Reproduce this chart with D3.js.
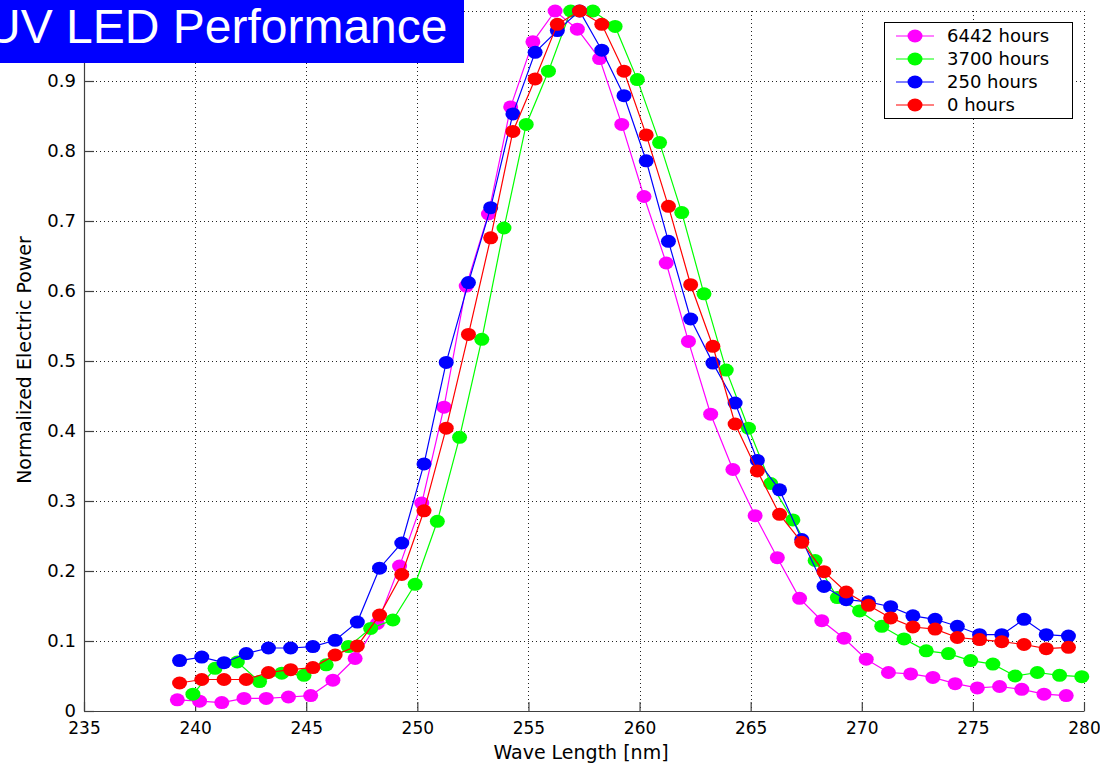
<!DOCTYPE html>
<html>
<head>
<meta charset="utf-8">
<script src="https://cdn.jsdelivr.net/npm/d3@7"></script>
<style>
  html, body { margin: 0; padding: 0; background: #fff; }
  svg { display: block; }
  text { font-family: "DejaVu Sans", Verdana, sans-serif; fill: #000; }
  text.banner { font-family: "Liberation Sans", Arial, sans-serif; fill: #fff; }
</style>
</head>
<body>
<svg id="chart" width="1100" height="766"></svg>
<script>
// Wavelength samples (nm) for each measurement run
const wl6442 = [239.2,240.2,241.2,242.2,243.2,244.2,245.2,246.2,247.2,248.2,249.2,250.2,251.2,252.2,253.2,254.2,255.2,256.2,257.2,258.2,259.2,260.2,261.2,262.2,263.2,264.2,265.2,266.2,267.2,268.2,269.2,270.2,271.2,272.2,273.2,274.2,275.2,276.2,277.2,278.2,279.2];
const wl3700 = [239.9,240.9,241.9,242.9,243.9,244.9,245.9,246.9,247.9,248.9,249.9,250.9,251.9,252.9,253.9,254.9,255.9,256.9,257.9,258.9,259.9,260.9,261.9,262.9,263.9,264.9,265.9,266.9,267.9,268.9,269.9,270.9,271.9,272.9,273.9,274.9,275.9,276.9,277.9,278.9,279.9];
const wl250  = [239.3,240.3,241.3,242.3,243.3,244.3,245.3,246.3,247.3,248.3,249.3,250.3,251.3,252.3,253.3,254.3,255.3,256.3,257.3,258.3,259.3,260.3,261.3,262.3,263.3,264.3,265.3,266.3,267.3,268.3,269.3,270.3,271.3,272.3,273.3,274.3,275.3,276.3,277.3,278.3,279.3];
const wl0    = [239.3,240.3,241.3,242.3,243.3,244.3,245.3,246.3,247.3,248.3,249.3,250.3,251.3,252.3,253.3,254.3,255.3,256.3,257.3,258.3,259.3,260.3,261.3,262.3,263.3,264.3,265.3,266.3,267.3,268.3,269.3,270.3,271.3,272.3,273.3,274.3,275.3,276.3,277.3,278.3,279.3];

// Normalized electric power per run
const p6442 = [0.016,0.014,0.012,0.018,0.018,0.020,0.022,0.044,0.075,0.125,0.207,0.297,0.434,0.607,0.710,0.863,0.956,1.000,0.974,0.932,0.838,0.735,0.640,0.528,0.424,0.345,0.279,0.219,0.161,0.129,0.104,0.074,0.055,0.053,0.048,0.039,0.033,0.035,0.031,0.024,0.022];
const p3700 = [0.024,0.061,0.070,0.042,0.054,0.051,0.066,0.092,0.118,0.130,0.181,0.271,0.391,0.531,0.690,0.838,0.914,1.000,1.000,0.978,0.902,0.812,0.712,0.596,0.487,0.404,0.325,0.273,0.215,0.162,0.143,0.121,0.103,0.086,0.082,0.072,0.067,0.050,0.055,0.051,0.049];
const p250  = [0.072,0.077,0.069,0.082,0.090,0.090,0.092,0.101,0.127,0.204,0.240,0.353,0.498,0.612,0.719,0.853,0.941,0.972,1.000,0.944,0.879,0.786,0.671,0.560,0.497,0.440,0.358,0.316,0.245,0.178,0.159,0.156,0.149,0.136,0.131,0.121,0.109,0.109,0.131,0.109,0.107];
const p0    = [0.040,0.045,0.045,0.045,0.055,0.059,0.062,0.080,0.093,0.137,0.195,0.286,0.404,0.538,0.676,0.828,0.903,0.981,1.000,0.981,0.914,0.823,0.721,0.609,0.521,0.410,0.343,0.281,0.241,0.199,0.170,0.151,0.133,0.120,0.117,0.105,0.102,0.099,0.095,0.089,0.091];

const seriesNames  = ["6442 hours", "3700 hours", "250 hours", "0 hours"];
const seriesColors = ["#ff00ff", "#00ff00", "#0000ff", "#ff0000"];

const xTicks = [235, 240, 245, 250, 255, 260, 265, 270, 275, 280];
const yTicks = [0, 0.1, 0.2, 0.3, 0.4, 0.5, 0.6, 0.7, 0.8, 0.9, 1];
// Labels shown on the y axis (the top tick sits under the banner)
const yTickLabels = ["0", "0.1", "0.2", "0.3", "0.4", "0.5", "0.6", "0.7", "0.8", "0.9", ""];

const titleText  = "UV LED Performance";
const xAxisLabel = "Wave Length [nm]";
const yAxisLabel = "Normalized Electric Power";

// Plot in drawing order: oldest run last so it sits on top
const series = [
  { name: seriesNames[0], color: seriesColors[0], wl: wl6442, p: p6442 },
  { name: seriesNames[1], color: seriesColors[1], wl: wl3700, p: p3700 },
  { name: seriesNames[2], color: seriesColors[2], wl: wl250,  p: p250 },
  { name: seriesNames[3], color: seriesColors[3], wl: wl0,    p: p0 }
];

const svg = d3.select("#chart");
const plot = { left: 84, right: 1084, top: 11, bottom: 711 };

const x = d3.scaleLinear().domain([235, 280]).range([plot.left, plot.right]);
const y = d3.scaleLinear().domain([0, 1]).range([plot.bottom, plot.top]);

svg.append("rect").attr("width", 1100).attr("height", 766).attr("fill", "#fff");

// Dotted grid
const grid = svg.append("g").attr("stroke", "#222").attr("stroke-width", 1)
  .attr("stroke-dasharray", "1,3").attr("shape-rendering", "crispEdges");
grid.selectAll("line.vx").data(xTicks.filter(d => d !== 235)).join("line")
  .attr("class", "vx")
  .attr("x1", d => Math.round(x(d)) + 0.5).attr("x2", d => Math.round(x(d)) + 0.5)
  .attr("y1", plot.top).attr("y2", plot.bottom);
grid.selectAll("line.hy").data(yTicks.filter(d => d !== 0)).join("line")
  .attr("class", "hy")
  .attr("y1", d => Math.round(y(d)) + 0.5).attr("y2", d => Math.round(y(d)) + 0.5)
  .attr("x1", plot.left).attr("x2", plot.right);

// Axes with inward ticks
const xAxis = d3.axisBottom(x).tickValues(xTicks).tickFormat(d3.format("d"))
  .tickSizeInner(-9).tickSizeOuter(0).tickPadding(11);
const yAxis = d3.axisLeft(y).tickValues(yTicks).tickFormat((d, i) => yTickLabels[i])
  .tickSizeInner(-10).tickSizeOuter(0).tickPadding(8);

const gx = svg.append("g").attr("transform", `translate(0,${plot.bottom})`).call(xAxis);
const gy = svg.append("g").attr("transform", `translate(${plot.left},0)`).call(yAxis);
[gx, gy].forEach(g => {
  g.selectAll(".domain").attr("stroke", "#404040").attr("stroke-width", 1.2);
  g.selectAll(".tick line").attr("stroke", "#404040").attr("stroke-width", 1.2);
  g.selectAll("text").attr("fill", "#000");
});
gx.selectAll("text").attr("font-size", 17);
gy.selectAll("text").attr("font-size", 18).attr("dy", "0.3em");

// Axis titles
svg.append("text").attr("x", 581).attr("y", 759).attr("text-anchor", "middle")
  .attr("font-size", 19).text(xAxisLabel);
svg.append("text").attr("transform", "translate(31,360) rotate(-90)").attr("text-anchor", "middle")
  .attr("font-size", 19).text(yAxisLabel);

// Series: line then markers
const line = d3.line().x(d => x(d[0])).y(d => y(d[1]));
series.forEach(s => {
  const pts = s.wl.map((w, i) => [w, s.p[i]]);
  const g = svg.append("g");
  g.append("path").datum(pts).attr("d", line).attr("fill", "none")
    .attr("stroke", s.color).attr("stroke-width", 1.2);
  g.selectAll("ellipse").data(pts).join("ellipse")
    .attr("cx", d => x(d[0])).attr("cy", d => y(d[1]))
    .attr("rx", 7.5).attr("ry", 6.5).attr("fill", s.color);
});

// Legend
const legend = svg.append("g");
legend.append("rect").attr("x", 884.5).attr("y", 22.5).attr("width", 188).attr("height", 96)
  .attr("fill", "#fff").attr("stroke", "#000").attr("stroke-width", 1);
const rowY = d3.scalePoint().domain(seriesNames).range([36, 105]);
series.forEach(s => {
  const yy = rowY(s.name);
  legend.append("line").attr("x1", 896).attr("x2", 934).attr("y1", yy).attr("y2", yy)
    .attr("stroke", s.color).attr("stroke-width", 1.2);
  legend.append("ellipse").attr("cx", 915).attr("cy", yy).attr("rx", 7.5).attr("ry", 6.5)
    .attr("fill", s.color);
  legend.append("text").attr("x", 947).attr("y", yy).attr("dy", "0.36em")
    .attr("font-size", 18).text(s.name);
});

// Title banner (text runs past the left edge of the page)
svg.append("rect").attr("x", 0).attr("y", 0).attr("width", 464).attr("height", 63).attr("fill", "#0000ff");
svg.append("text").attr("class", "banner").attr("x", -14).attr("y", 43)
  .attr("font-size", 48).text(titleText);
</script>
</body>
</html>
